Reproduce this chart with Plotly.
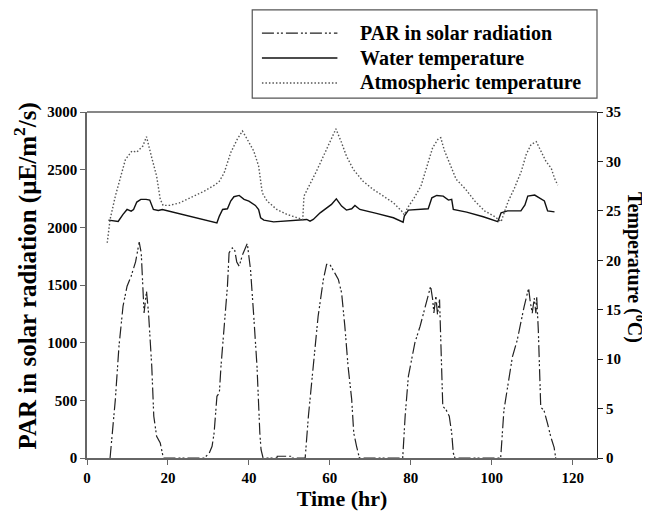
import plotly.graph_objects as go

# ---- data ----
par_time = [5.7, 7.0, 7.9, 8.9, 9.9, 10.9, 12.0, 12.9, 13.4, 13.8, 14.1, 14.7, 15.2, 16.0, 16.5, 17.2, 18.1, 18.6, 18.9,
            29.0, 30.2, 30.9, 31.4, 32.1, 32.7, 33.1, 33.9, 34.7, 35.1, 35.9, 36.5, 37.0, 37.6, 38.4, 39.6, 40.4, 41.2, 42.0, 42.7, 43.0, 43.5,
            46.9, 47.0, 50.6, 50.7,
            53.9, 54.7, 55.9, 57.1, 58.4, 59.2, 60.0, 60.4, 61.2, 62.1, 62.9, 63.7, 64.5, 65.4, 65.9, 66.6, 67.3,
            78.0, 78.6, 79.4, 80.2, 81.0, 82.3, 83.1, 83.9, 84.6, 84.9, 85.4, 85.7, 86.2, 86.6, 87.1, 87.4, 87.9, 88.7, 89.5, 90.1, 90.5, 90.9,
            102.2, 103.0, 104.3, 105.1, 106.3, 107.1, 108.0, 108.6, 109.1, 109.5, 110.0, 110.5, 110.9, 111.1, 111.5, 112.1, 112.9, 113.8, 114.6, 115.4, 115.8]
par_value = [0, 506, 969, 1316, 1490, 1576, 1700, 1872, 1779, 1490, 1258, 1446, 1258, 795, 362, 188, 130, 43, 0,
             0, 43, 101, 217, 535, 564, 795, 1143, 1490, 1779, 1822, 1800, 1700, 1663, 1760, 1860, 1634, 1229, 795, 217, 72, 0,
             0, 15, 15, 0,
             0, 362, 795, 1229, 1548, 1678, 1678, 1649, 1605, 1548, 1432, 1143, 795, 506, 217, 101, 0,
             0, 362, 709, 853, 998, 1143, 1258, 1374, 1461, 1490, 1374, 1258, 1403, 1244, 1374, 1085, 448, 419, 362, 217, 43, 0,
             0, 413, 703, 877, 1023, 1168, 1313, 1400, 1473, 1357, 1255, 1386, 1255, 1400, 1110, 441, 413, 296, 180, 93, 0]

water_time = [5.3, 6.6, 7.7, 8.9, 9.9, 10.9, 11.5, 12.3, 13.3, 14.6, 15.5, 16.4, 17.6, 18.6, 22.0, 26.9,
              32.1, 32.7, 33.5, 34.7, 35.5, 36.3, 37.6, 38.8, 40.0, 41.6, 42.4, 42.9, 43.7, 46.1, 49.4, 52.7,
              54.3, 55.1, 55.9, 57.6, 59.2, 60.4, 61.6, 62.9, 64.1, 65.4, 66.2, 67.4, 71.5, 75.7,
              78.1, 78.4, 79.4, 81.4, 84.3, 85.2, 86.4, 88.0, 89.3, 90.1, 90.5, 93.8, 97.9,
              101.5, 102.3, 103.9, 107.2, 108.2, 108.9, 110.6, 112.2, 113.0, 113.8, 115.5]
water_temp = [24.06, 23.96, 23.93, 24.64, 25.14, 24.97, 25.14, 25.89, 26.16, 26.16, 26.09, 25.14, 25.04, 25.14, 24.8, 24.35,
              23.79, 24.47, 25.14, 25.21, 25.99, 26.43, 26.56, 26.16, 25.99, 25.55, 25.14, 24.3, 24.06, 23.89, 23.96, 24.06,
              24.13, 23.96, 24.13, 24.8, 25.3, 25.65, 26.22, 25.48, 25.08, 25.21, 25.55, 25.14, 24.74, 24.3,
              23.86, 24.47, 25.08, 25.14, 25.21, 26.32, 26.56, 26.49, 26.09, 26.16, 25.14, 24.87, 24.4,
              23.9, 24.8, 25.0, 25.0, 25.6, 26.5, 26.6, 26.2, 26.0, 25.0, 24.9]

air_time = [5.0, 5.7, 7.0, 8.3, 9.5, 11.1, 12.3, 13.8, 14.7, 16.0, 17.2, 18.1, 18.8, 20.4, 22.8, 24.9, 27.0, 29.0,
            31.8, 32.7, 33.9, 35.5, 37.1, 38.4, 39.6, 41.2, 42.4, 43.3, 44.5, 46.9, 49.4, 51.8, 53.3,
            53.6, 55.1, 56.7, 58.8, 60.4, 61.5, 62.9, 64.1, 65.8, 68.2, 70.7, 73.2, 75.7, 77.7,
            78.4, 79.2, 80.8, 82.5, 83.9, 85.4, 86.8, 87.4, 88.3, 89.6, 91.2, 93.5, 95.8, 98.2, 100.8,
            102.3, 104.0, 105.6, 107.3, 108.5, 109.7, 111.0, 112.2, 113.4, 114.7, 115.5, 116.3]
air_temp = [21.77, 24.13, 26.49, 28.52, 30.2, 31.05, 30.95, 31.56, 32.5, 30.37, 28.52, 26.16, 25.55, 25.55, 25.8, 26.2, 26.6, 27.0,
            27.67, 28.0, 28.86, 30.88, 32.23, 33.07, 32.23, 31.05, 29.53, 26.83, 25.99, 25.14, 24.64, 24.3, 24.13,
            26.49, 27.67, 29.02, 30.88, 32.4, 33.3, 31.89, 30.54, 29.19, 28.0, 27.17, 26.49, 25.82, 25.0,
            24.6, 25.3, 26.3, 27.5, 29.4, 31.4, 32.3, 32.4, 31.1, 29.8, 28.2, 27.2, 26.0, 25.0, 24.4,
            23.9, 25.9, 27.3, 29.0, 30.7, 31.7, 32.0, 31.0, 30.0, 29.3, 28.3, 27.6]

x_ticks = [0, 20, 40, 60, 80, 100, 120]
par_ticks = [0, 500, 1000, 1500, 2000, 2500, 3000]
temp_ticks = [0, 5, 10, 15, 20, 25, 30, 35]

names = ["PAR in solar radiation", "Water temperature", "Atmospheric temperature"]

FONT = "Liberation Serif"
PAR_DASH = "12px,3px,2px,2px,2px,3px"
AIR_DASH = "1.5px,2px"

fig = go.Figure()
fig.add_trace(go.Scatter(x=par_time, y=par_value, mode="lines", name=names[0],
                         line=dict(color="#222222", width=1.2, dash=PAR_DASH), showlegend=False))
fig.add_trace(go.Scatter(x=water_time, y=water_temp, mode="lines", name=names[1], yaxis="y2",
                         line=dict(color="#111111", width=1.4), showlegend=False))
fig.add_trace(go.Scatter(x=air_time, y=air_temp, mode="lines", name=names[2], yaxis="y2",
                         line=dict(color="#555555", width=1.4, dash=AIR_DASH), showlegend=False))

tickfont = dict(family=FONT, size=15, color="black", weight="bold")

# the page body has an 8px margin, so the figure is drawn 8px smaller and offset
fig.update_layout(
    width=642, height=511,
    margin=dict(l=79, r=53, t=104, b=61),
    paper_bgcolor="white", plot_bgcolor="white",
    xaxis=dict(range=[0, 126], tickvals=x_ticks, showline=True, linecolor="#666666", linewidth=1.5,
               ticks="outside", ticklen=5, tickcolor="#666666", showgrid=False, zeroline=False,
               tickfont=tickfont,
               title=dict(text="Time (hr)", font=dict(family=FONT, size=22, color="black", weight="bold"), standoff=5)),
    yaxis=dict(range=[0, 3000], tickvals=par_ticks, showline=True, linecolor="#666666", linewidth=1.5,
               ticks="outside", ticklen=5, tickcolor="#666666", showgrid=False, zeroline=False,
               tickfont=tickfont),
    yaxis2=dict(range=[0, 35], tickvals=temp_ticks, overlaying="y", side="right", showline=True,
                linecolor="#222222", linewidth=1, ticks="outside", ticklen=5, tickcolor="#222222",
                showgrid=False, zeroline=False, tickfont=tickfont),
)

# top frame line (black)
fig.add_shape(type="line", xref="paper", yref="paper", x0=0, x1=1, y0=1, y1=1,
              line=dict(color="#111111", width=1.2))

# axis titles (left reads upward, right reads downward as in the reference)
fig.add_annotation(xref="paper", yref="paper", x=-0.12, y=0.527, xanchor="center", yanchor="middle",
                   showarrow=False, textangle=-90,
                   text="PAR in solar radiation (µE/m<sup>2</sup>/s)",
                   font=dict(family=FONT, size=25, color="black", weight="bold"))
fig.add_annotation(xref="paper", yref="paper", x=1.076, y=0.55, xanchor="center", yanchor="middle",
                   showarrow=False, textangle=90,
                   text="Temperature (<sup>o</sup>C)",
                   font=dict(family=FONT, size=20, color="black", weight="bold"))

# legend box drawn manually
fig.add_shape(type="rect", xref="paper", yref="paper", x0=0.324, x1=1.0, y0=1.040, y1=1.295,
              line=dict(color="#555555", width=1.2), fillcolor="white", layer="above")
legend_rows = [1.228, 1.156, 1.084]
legend_styles = [dict(color="#222222", width=1.2, dash=PAR_DASH),
                 dict(color="#111111", width=1.4),
                 dict(color="#555555", width=1.4, dash=AIR_DASH)]
for nm, yy, st in zip(names, legend_rows, legend_styles):
    fig.add_shape(type="line", xref="paper", yref="paper", x0=0.343, x1=0.491, y0=yy, y1=yy, line=st)
    fig.add_annotation(xref="paper", yref="paper", x=0.532, y=yy, xanchor="left", yanchor="middle",
                       showarrow=False, text=nm,
                       font=dict(family=FONT, size=20, color="black", weight="bold"))

fig.write_html("out.html")
